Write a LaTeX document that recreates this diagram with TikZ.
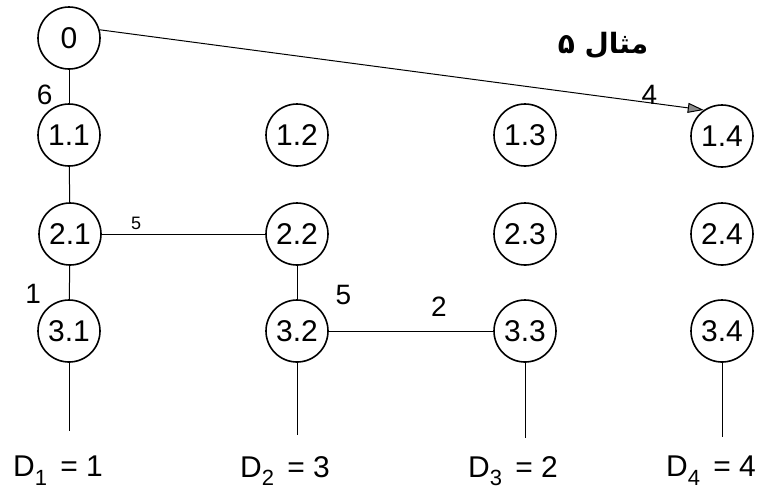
\documentclass[tikz,border=0pt]{standalone}
\usepackage{fontspec}
\setmainfont{Liberation Sans}
\newfontfamily\arabicfont[Script=Arabic]{DejaVu Sans}
\TeXXeTstate=1
\usetikzlibrary{arrows.meta,positioning}
\newcommand{\dsub}[1]{\raisebox{-0.55ex}{\fontsize{11}{13}\selectfont #1}}
\tikzset{
  state/.style={circle,draw,line width=0.8pt,minimum size=31pt,inner sep=0pt,font=\fontsize{15}{17}\selectfont},
  link/.style={line width=0.5pt},
  jump/.style={link,-{Triangle[length=8pt,width=5pt,fill=black!45]}},
  cost/.style={font=\fontsize{14}{16}\selectfont,inner sep=2pt},
  small/.style={font=\fontsize{9}{11}\selectfont,inner sep=2pt},
  stage/.style={font=\fontsize{15}{18}\selectfont,inner sep=2pt},
  title/.style={font=\fontsize{14}{17}\selectfont\arabicfont\bfseries,inner sep=2pt}
}
\begin{document}
\begin{tikzpicture}[x=0.5pt,y=-0.5pt]
\useasboundingbox (0,0) rectangle (772,495);
% stages
\node[state] (s0) at (69,38) {0};
\node[state] (s11) at (69,135) {1.1};
\node[state] (s12) at (297,135) {1.2};
\node[state] (s13) at (525,135) {1.3};
\node[state] (s14) at (722,136) {1.4};
\node[state] (s21) at (70,234) {2.1};
\node[state] (s22) at (297,234) {2.2};
\node[state] (s23) at (525,234) {2.3};
\node[state] (s24) at (722,234) {2.4};
\node[state] (s31) at (69,331) {3.1};
\node[state] (s32) at (297,331) {3.2};
\node[state] (s33) at (525,331) {3.3};
\node[state] (s34) at (722,331) {3.4};
\node[title] (name) at (603,45) {\beginR مثال ۵\endR};

% demand labels
\node[stage] (d1) at (58,471) {D\dsub{1}\, = 1};
\node[stage] (d2) at (285,471) {D\dsub{2}\, = 3};
\node[stage] (d3) at (513,471) {D\dsub{3}\, = 2};
\node[stage] (d4) at (711,471) {D\dsub{4}\, = 4};
\coordinate (t1) at (69,431);
\coordinate (t2) at (297,435);
\coordinate (t3) at (525,438);
\coordinate (t4) at (722,437);

\draw[link] (s0) -- node[cost,pos=0.75,left=6pt] {6} (s11);
\draw[link] (s11) -- (s21);
\draw[link] (s21) -- node[small,pos=0.21,above=0pt] {5} (s22);
\draw[link] (s21) -- node[cost,pos=0.85,left=12pt] {1} (s31);
\draw[link] (s22) -- node[cost,pos=0.88,right=17pt] {5} (s32);
\draw[link] (s32) -- node[cost,pos=0.67,above=5pt] {2} (s33);
\draw[jump] (s0.15) -- node[cost,pos=0.91,above=-3pt] {4} (s14.125);
\draw[link] (s31) -- (t1);
\draw[link] (s32) -- (t2);
\draw[link] (s33) -- (t3);
\draw[link] (s34) -- (t4);
\end{tikzpicture}
\end{document}
